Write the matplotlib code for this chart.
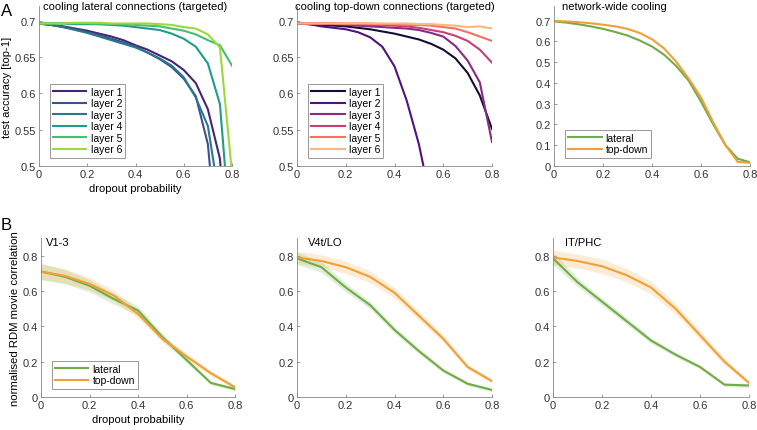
import numpy as np
import matplotlib
matplotlib.use('Agg')
import matplotlib.pyplot as plt

# dropout probabilities
p_fine = [0, 0.05, 0.1, 0.15, 0.2, 0.25, 0.3, 0.35, 0.4, 0.45, 0.5, 0.55, 0.6, 0.65, 0.7, 0.75, 0.8]
p_coarse = [0, 0.1, 0.2, 0.3, 0.4, 0.5, 0.6, 0.7, 0.8]

layer_names = ['layer 1', 'layer 2', 'layer 3', 'layer 4', 'layer 5', 'layer 6']

# A, left: cooling lateral connections (targeted)
lat_l1 = [0.696, 0.694, 0.692, 0.689, 0.686, 0.682, 0.678, 0.673, 0.666, 0.660, 0.652, 0.644, 0.632, 0.614, 0.578, 0.510, 0.30]
lat_l2 = [0.696, 0.694, 0.691, 0.688, 0.684, 0.680, 0.675, 0.670, 0.664, 0.656, 0.647, 0.636, 0.620, 0.596, 0.530, 0.350, 0.20]
lat_l3 = [0.696, 0.694, 0.691, 0.687, 0.683, 0.678, 0.673, 0.668, 0.663, 0.656, 0.648, 0.638, 0.622, 0.594, 0.555, 0.450, 0.25]
lat_l4 = [0.696, 0.696, 0.696, 0.695, 0.695, 0.695, 0.694, 0.693, 0.691, 0.689, 0.687, 0.682, 0.675, 0.664, 0.641, 0.585, 0.38]
lat_l5 = [0.696, 0.696, 0.696, 0.696, 0.696, 0.695, 0.695, 0.695, 0.694, 0.693, 0.692, 0.689, 0.686, 0.681, 0.673, 0.666, 0.638]
lat_l6 = [0.696, 0.696, 0.696, 0.697, 0.697, 0.697, 0.696, 0.696, 0.696, 0.696, 0.695, 0.694, 0.691, 0.689, 0.681, 0.663, 0.49]

# A, middle: cooling top-down connections (targeted)
td_l1 = [0.696, 0.695, 0.694, 0.693, 0.692, 0.690, 0.688, 0.685, 0.682, 0.678, 0.674, 0.668, 0.660, 0.648, 0.628, 0.597, 0.551]
td_l2 = [0.696, 0.695, 0.692, 0.690, 0.688, 0.684, 0.677, 0.664, 0.637, 0.590, 0.530, 0.450, 0.35, 0.25, 0.15, 0.10, 0.05]
td_l3 = [0.696, 0.696, 0.695, 0.695, 0.694, 0.693, 0.692, 0.691, 0.690, 0.689, 0.687, 0.683, 0.678, 0.665, 0.645, 0.615, 0.533]
td_l4 = [0.696, 0.696, 0.696, 0.696, 0.695, 0.695, 0.694, 0.694, 0.693, 0.692, 0.690, 0.687, 0.684, 0.679, 0.672, 0.660, 0.642]
td_l5 = [0.696, 0.696, 0.696, 0.696, 0.696, 0.696, 0.696, 0.695, 0.695, 0.694, 0.694, 0.693, 0.691, 0.689, 0.684, 0.678, 0.672]
td_l6 = [0.696, 0.696, 0.696, 0.696, 0.696, 0.696, 0.696, 0.696, 0.696, 0.696, 0.695, 0.695, 0.694, 0.693, 0.691, 0.692, 0.689]

# A, right: network-wide cooling
nw_lat = [0.696, 0.690, 0.682, 0.672, 0.660, 0.645, 0.628, 0.604, 0.575, 0.535, 0.480, 0.410, 0.310, 0.200, 0.100, 0.035, 0.018]
nw_td = [0.698, 0.696, 0.692, 0.687, 0.680, 0.672, 0.660, 0.640, 0.610, 0.565, 0.500, 0.420, 0.330, 0.210, 0.100, 0.020, 0.015]

# B: normalised RDM movie correlation (mean, sem)
regions = ['V1-3', 'V4t/LO', 'IT/PHC']
rdm_lat = [
    [0.71, 0.68, 0.63, 0.555, 0.49, 0.34, 0.21, 0.08, 0.045],
    [0.785, 0.735, 0.62, 0.52, 0.38, 0.26, 0.15, 0.075, 0.04],
    [0.785, 0.65, 0.54, 0.43, 0.32, 0.24, 0.17, 0.07, 0.065],
]
rdm_td = [
    [0.71, 0.685, 0.64, 0.575, 0.47, 0.33, 0.23, 0.135, 0.055],
    [0.79, 0.77, 0.735, 0.68, 0.59, 0.46, 0.33, 0.17, 0.09],
    [0.79, 0.77, 0.74, 0.69, 0.62, 0.50, 0.35, 0.20, 0.08],
]
rdm_lat_sem = [
    [0.045, 0.04, 0.035, 0.03, 0.025, 0.02, 0.015, 0.01, 0.01],
    [0.035, 0.03, 0.025, 0.02, 0.018, 0.015, 0.012, 0.01, 0.01],
    [0.035, 0.025, 0.02, 0.018, 0.015, 0.012, 0.01, 0.01, 0.01],
]
rdm_td_sem = [
    [0.045, 0.04, 0.035, 0.03, 0.025, 0.02, 0.018, 0.015, 0.012],
    [0.035, 0.035, 0.035, 0.033, 0.03, 0.025, 0.02, 0.015, 0.012],
    [0.04, 0.04, 0.04, 0.038, 0.035, 0.03, 0.025, 0.02, 0.012],
]
title_offsets = [0.025, 0.055, 0.06]

green = '#70ad47'
orange = '#f0a035'

plt.rcParams['font.family'] = ['Liberation Sans', 'DejaVu Sans']
plt.rcParams['font.size'] = 8


def style(ax, xlim, ylim, yticks):
    ax.set_xlim(xlim)
    ax.set_ylim(ylim)
    ax.set_xticks([0, 0.2, 0.4, 0.6, 0.8])
    ax.set_xticklabels(['0', '0.2', '0.4', '0.6', '0.8'])
    ax.set_yticks(yticks)
    ax.set_yticklabels([('%.2f' % v).rstrip('0').rstrip('.') for v in yticks])
    for s in ['top', 'right']:
        ax.spines[s].set_visible(False)
    for s in ['left', 'bottom']:
        ax.spines[s].set_color('#888888')
        ax.spines[s].set_linewidth(0.6)
    ax.tick_params(direction='in', length=2, width=0.6, colors='#888888',
                   labelcolor='#333333', labelsize=8, pad=2)


def legend(ax):
    lg = ax.legend(loc='lower left', bbox_to_anchor=(0.03, 0.02), fontsize=7.5, handlelength=3.2,
                   handletextpad=0.4, labelspacing=0.15, borderpad=0.3, fancybox=False,
                   edgecolor='#888888', framealpha=1)
    lg.get_frame().set_linewidth(0.6)


fig = plt.figure(figsize=(7.57, 4.31), dpi=100)
W, H = 757.0, 431.0


def add_axes(x0, x1, ytop, ybot):
    return fig.add_axes([x0 / W, 1 - ybot / H, (x1 - x0) / W, (ybot - ytop) / H])


ax1 = add_axes(39, 232, 7, 167)
ax2 = add_axes(297, 492, 7, 167)
ax3 = add_axes(554, 750, 7, 167)
ax4 = add_axes(41, 235, 239, 398)
ax5 = add_axes(297, 492, 239, 398)
ax6 = add_axes(553, 749, 239, 398)

vir = plt.cm.viridis(np.linspace(0.1, 0.85, 6))
mag = plt.cm.magma(np.linspace(0.1, 0.85, 6))

for ys, c, name in zip([lat_l1, lat_l2, lat_l3, lat_l4, lat_l5, lat_l6], vir, layer_names):
    ax1.plot(p_fine, ys, color=c, lw=1.5, label=name)
for ys, c, name in zip([td_l1, td_l2, td_l3, td_l4, td_l5, td_l6], mag, layer_names):
    ax2.plot(p_fine, ys, color=c, lw=1.5, label=name)
ax3.plot(p_fine, nw_lat, color=green, lw=1.5, label='lateral')
ax3.plot(p_fine, nw_td, color=orange, lw=1.5, label='top-down')

for ax in [ax1, ax2]:
    style(ax, (0, 0.8), (0.5, 0.72), [0.5, 0.55, 0.6, 0.65, 0.7])
    legend(ax)
style(ax3, (0, 0.8), (0, 0.77), [0, 0.1, 0.2, 0.3, 0.4, 0.5, 0.6, 0.7])
legend(ax3)

ax1.text(0.5, 1.0, 'cooling lateral connections (targeted)', transform=ax1.transAxes,
         ha='center', va='center', fontsize=8)
ax2.text(0.5, 1.0, 'cooling top-down connections (targeted)', transform=ax2.transAxes,
         ha='center', va='center', fontsize=8)
ax3.text(0.04, 1.0, 'network-wide cooling', transform=ax3.transAxes,
         ha='left', va='center', fontsize=8)

ax1.set_ylabel('test accuracy [top-1]', fontsize=8, labelpad=2)
ax1.set_xlabel('dropout probability', fontsize=8, labelpad=3)

for ax, name, lat, td, ls, ts, off in zip([ax4, ax5, ax6], regions, rdm_lat, rdm_td,
                                          rdm_lat_sem, rdm_td_sem, title_offsets):
    lat = np.array(lat)
    td = np.array(td)
    ls = np.array(ls)
    ts = np.array(ts)
    ax.fill_between(p_coarse, lat - ls, lat + ls, color=green, alpha=0.2, lw=0)
    ax.fill_between(p_coarse, td - ts, td + ts, color=orange, alpha=0.2, lw=0)
    ax.plot(p_coarse, lat, color=green, lw=1.5, label='lateral')
    ax.plot(p_coarse, td, color=orange, lw=1.5, label='top-down')
    style(ax, (0, 0.8), (0, 0.9), [0, 0.2, 0.4, 0.6, 0.8])
    ax.text(off, 0.975, name, transform=ax.transAxes, ha='left', va='center', fontsize=8)

legend(ax4)
ax4.set_ylabel('normalised RDM movie correlation', fontsize=8.2, labelpad=2)
ax4.set_xlabel('dropout probability', fontsize=8, labelpad=3)

fig.text(1 / W, 1 - 12 / H, 'A', fontsize=12, ha='left', va='center')
fig.text(1 / W, 1 - 225 / H, 'B', fontsize=12, ha='left', va='center')

fig.savefig('out.png', dpi=100)
